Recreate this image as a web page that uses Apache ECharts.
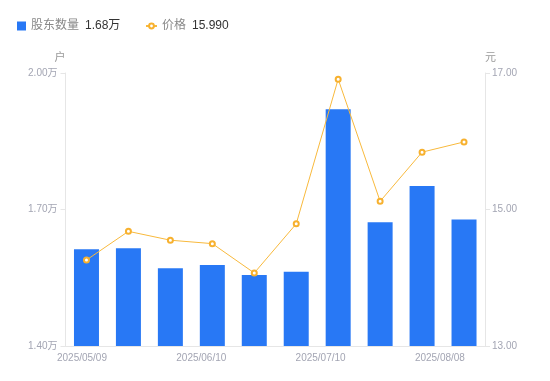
<!DOCTYPE html>
<html><head><meta charset="utf-8">
<script src="https://cdn.jsdelivr.net/npm/echarts@6/dist/echarts.min.js"></script>
<style>html,body{margin:0;padding:0;background:#fff}#c{width:550px;height:381px}</style>
</head><body><div id="c"></div>
<script>
var categories = ['2025/05/09','2025/05/20','2025/05/30','2025/06/10','2025/06/20','2025/06/30','2025/07/10','2025/07/18','2025/07/31','2025/08/08'];
var holders = [16125, 16147, 15707, 15780, 15560, 15633, 19202, 16718, 17516, 16780];
var prices = [14.26, 14.68, 14.55, 14.50, 14.07, 14.79, 16.91, 15.12, 15.84, 15.99];
var xTickLabels = ['2025/05/09','2025/06/10','2025/07/10','2025/08/08'];
var legendValues = {'股东数量':'1.68万','价格':'15.990'};

var chart = echarts.init(document.getElementById('c'));
var labelColor = '#a3a5b3';
var lineColor = '#e6e6e6';
var legendText = {rich:{n:{color:'#888',fontSize:12,padding:[0,6,0,0]},v:{color:'#333',fontSize:12}}};
function legendFmt(n){return '{n|'+n+'}{v|'+legendValues[n]+'}';}
chart.setOption({
  animation:false,
  textStyle:{fontFamily:'"Liberation Sans","Noto Sans CJK SC",sans-serif'},
  legend:[{
    left:12, top:15, itemWidth:9, itemHeight:9, itemGap:5,
    data:[{name:'股东数量',icon:'rect'}],
    formatter:legendFmt, textStyle:legendText
  },{
    left:140, top:15, itemWidth:11, itemHeight:6, itemGap:5,
    data:[{name:'价格'}],
    formatter:legendFmt, textStyle:legendText
  }],
  grid:{left:65.5,right:65,top:73,bottom:35},
  xAxis:[{
    type:'category', data:categories,
    axisLine:{lineStyle:{color:lineColor}}, axisTick:{show:false}, axisLabel:{show:false}
  },{
    type:'value', min:-0.138, max:3.378, position:'bottom',
    axisLine:{show:false}, axisTick:{show:false}, splitLine:{show:false},
    axisLabel:{customValues:[0,1,2,3], color:labelColor, fontSize:10, margin:7,
      formatter:function(v){return xTickLabels[Math.round(v)];}}
  }],
  yAxis:[{
    type:'value', min:14000, max:20000, interval:3000, name:'户',
    nameGap:10, nameTextStyle:{color:'#999',fontSize:11,align:'right'},
    axisLine:{show:true,onZero:false,lineStyle:{color:lineColor}},
    axisTick:{show:true,length:5,lineStyle:{color:lineColor}},
    splitLine:{show:false},
    axisLabel:{color:labelColor,fontSize:10,margin:8,formatter:function(v){return (v/10000).toFixed(2)+'万';}}
  },{
    type:'value', min:13, max:17, interval:2, name:'元',
    nameGap:10, nameTextStyle:{color:'#999',fontSize:11,align:'left'},
    axisLine:{show:true,onZero:false,lineStyle:{color:lineColor}},
    axisTick:{show:true,length:5,lineStyle:{color:lineColor}},
    splitLine:{show:false},
    axisLabel:{color:labelColor,fontSize:10,margin:7,formatter:function(v){return v.toFixed(2);}}
  }],
  series:[{
    name:'股东数量', type:'bar', data:holders, barWidth:25, xAxisIndex:0, yAxisIndex:0,
    itemStyle:{color:'#2878f5'}
  },{
    name:'价格', type:'line', data:prices, xAxisIndex:0, yAxisIndex:1,
    symbol:'emptyCircle', symbolSize:5, lineStyle:{color:'#f8b93c',width:1},
    itemStyle:{color:'#f7b12f',borderWidth:1.5}
  }]
});
</script></body></html>
